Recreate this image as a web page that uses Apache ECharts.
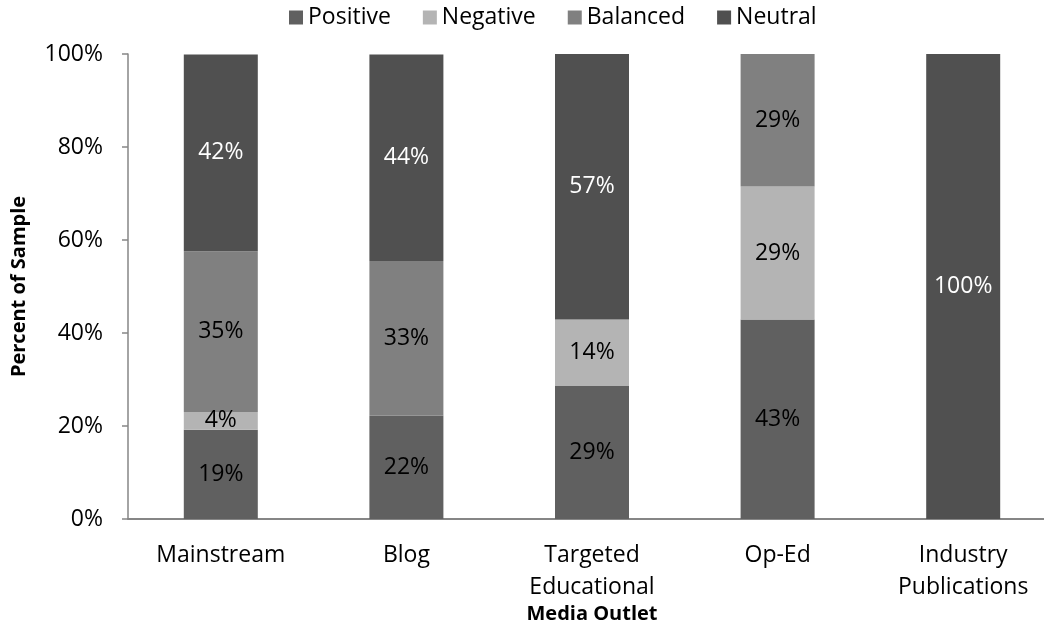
<!DOCTYPE html>
<html>
<head>
<meta charset="utf-8">
<script src="https://cdn.jsdelivr.net/npm/echarts@6/dist/echarts.min.js"></script>
<style>
html,body{margin:0;padding:0;background:#fff;}
#chart{width:1044px;height:634px;}
</style>
</head>
<body>
<div id="chart"></div>
<script>
const categories = ['Mainstream', 'Blog', 'Targeted\nEducational', 'Op-Ed', 'Industry\nPublications'];
const positive = [19.2, 22.2, 28.6, 42.9, 0];
const negative = [3.8, 0, 14.3, 28.6, 0];
const balanced = [34.6, 33.3, 0, 28.6, 0];
const neutral = [42.3, 44.4, 57.1, 0, 100];
const yTicks = [0, 20, 40, 60, 80, 100];

const FONT = '"Open Sans", sans-serif';
function mk(name, data, color, labelColor) {
  return {
    name: name,
    type: 'bar',
    stack: 'total',
    data: data,
    barWidth: 74,
    itemStyle: { color: color },
    label: {
      show: true,
      position: 'inside',
      color: labelColor,
      fontFamily: FONT,
      fontSize: 23,
      formatter: p => p.value > 0 ? Math.round(p.value) + '%' : ''
    }
  };
}

const chart = echarts.init(document.getElementById('chart'));
chart.setOption({
  animation: false,
  backgroundColor: '#fff',
  legend: {
    top: 1,
    left: 284,
    icon: 'rect',
    itemWidth: 14,
    itemHeight: 14,
    itemGap: 32,
    textStyle: { fontFamily: FONT, fontSize: 23, color: '#000' },
    data: ['Positive', 'Negative', 'Balanced', 'Neutral']
  },
  grid: { left: 128, width: 928, top: 54, bottom: 115, containLabel: false, outerBoundsMode: 'none' },
  xAxis: {
    type: 'category',
    data: categories,
    name: 'Media Outlet',
    nameLocation: 'middle',
    nameGap: 85,
    nameMoveOverlap: false,
    nameTextStyle: { fontFamily: FONT, fontSize: 20, fontWeight: 'bold', color: '#000' },
    axisLine: { lineStyle: { color: '#868686', width: 2 } },
    axisTick: { show: false },
    axisLabel: { fontFamily: FONT, fontSize: 23, color: '#000', margin: 20, lineHeight: 32, interval: 0 }
  },
  yAxis: {
    type: 'value',
    min: 0,
    max: 100,
    interval: 20,
    name: 'Percent of Sample',
    nameLocation: 'middle',
    nameGap: 99,
    nameMoveOverlap: false,
    nameTextStyle: { fontFamily: FONT, fontSize: 20, fontWeight: 'bold', color: '#000' },
    splitLine: { show: false },
    axisLine: { show: true, lineStyle: { color: '#868686', width: 1.5 } },
    axisTick: { show: true, length: 6, lineStyle: { color: '#868686', width: 1.5 } },
    axisLabel: {
      fontFamily: FONT, fontSize: 23, color: '#000', margin: 25,
      formatter: v => (yTicks.indexOf(v) >= 0 ? v + '%' : '')
    }
  },
  series: [
    mk('Positive', positive, '#606060', '#000'),
    mk('Negative', negative, '#b4b4b4', '#000'),
    mk('Balanced', balanced, '#808080', '#000'),
    mk('Neutral', neutral, '#505050', '#fff')
  ]
});
</script>
</body>
</html>
